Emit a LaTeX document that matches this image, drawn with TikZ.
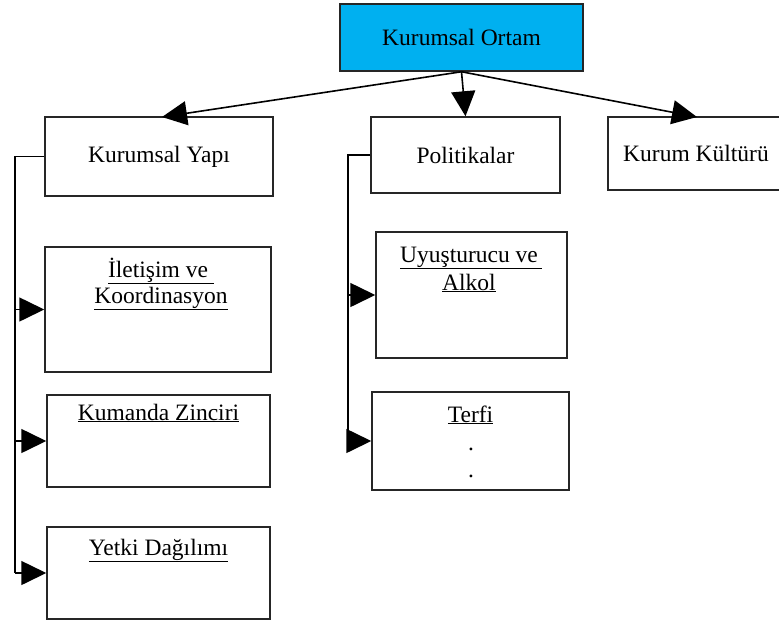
\documentclass[tikz,border=0pt]{standalone}
\usepackage{fontspec}
\setmainfont{Liberation Serif}
\usetikzlibrary{arrows.meta,calc}
\definecolor{headblue}{RGB}{0,176,240}
\begin{document}
\begin{tikzpicture}[x=1pt,y=-1pt,
  box/.style={draw=black!85,line width=1.5pt,inner sep=0pt,font=\fontsize{23.5}{26}\selectfont},
  lbl/.style={inner sep=0pt,anchor=base,font=\fontsize{23.5}{26}\selectfont},
  wire/.style={line width=1.6pt,draw=black},
  link/.style={wire,-{Triangle[length=25pt,width=24pt]}}]
\useasboundingbox (0,0) rectangle (779,625);
\clip (0,0) rectangle (779,625);

% top level
\node[box,fill=headblue,minimum width=243pt,minimum height=67pt] (root) at (461.5,37.5) {Kurumsal Ortam};
\node[box,minimum width=228pt,minimum height=79pt] (yapi) at (159,156.5) {Kurumsal Yapı};
\node[box,minimum width=189pt,minimum height=76pt] (pol) at (465.5,155) {Politikalar};
\node[box,minimum width=176pt,minimum height=73pt] (kult) at (696,153.5) {Kurum Kültürü};

% structure branch
\node[box,minimum width=226pt,minimum height=125pt] (ilet) at (158,309.5) {};
\node[box,minimum width=223pt,minimum height=92pt] (kum) at (158.5,441) {};
\node[box,minimum width=223pt,minimum height=92pt] (yetki) at (158.5,573) {};
\node[lbl] (ilet1) at (161,277) {\underline{İletişim ve\ }};
\node[lbl] (ilet2) at (161,303) {\underline{Koordinasyon}};
\node[lbl] (kum1) at (158.5,420) {\underline{Kumanda Zinciri}};
\node[lbl] (yetki1) at (158.5,555) {\underline{Yetki Dağılımı}};

% policy branch
\node[box,minimum width=191pt,minimum height=126pt] (uyus) at (471.5,295) {};
\node[box,minimum width=197pt,minimum height=98pt] (terfi) at (470.5,441) {};
\node[lbl] (uyus1) at (471,262) {\underline{Uyuşturucu ve\,}};
\node[lbl] (uyus2) at (469,290) {\underline{Alkol}};
\node[lbl] (terfi1) at (470.5,422) {\underline{Terfi}};
\node[lbl] (dot1) at (471,450) {.};
\node[lbl] (dot2) at (471,477) {.};

% arrows from the root
\coordinate (ytip) at (162,117);
\coordinate (ktip) at (697,117);
\draw[link] (root.south) -- (ytip);
\draw[link] (root.south) -- (pol.north);
\draw[link] (root.south) -- (ktip);

% rails
\coordinate (yrail) at (15,0);
\coordinate (prail) at (348,0);
\draw[wire] (yapi.west) -- (yapi.west -| yrail) -- (yetki.west -| yrail);
\draw[link] (ilet.west -| yrail) -- (ilet.west);
\draw[link] (kum.west -| yrail) -- (kum.west);
\draw[link] (yetki.west -| yrail) -- (yetki.west);

\draw[wire] (pol.west) -- (pol.west -| prail) -- (terfi.west -| prail);
\draw[link] (uyus.west -| prail) -- (uyus.west);
\draw[link] (terfi.west -| prail) -- (terfi.west);
\end{tikzpicture}
\end{document}
